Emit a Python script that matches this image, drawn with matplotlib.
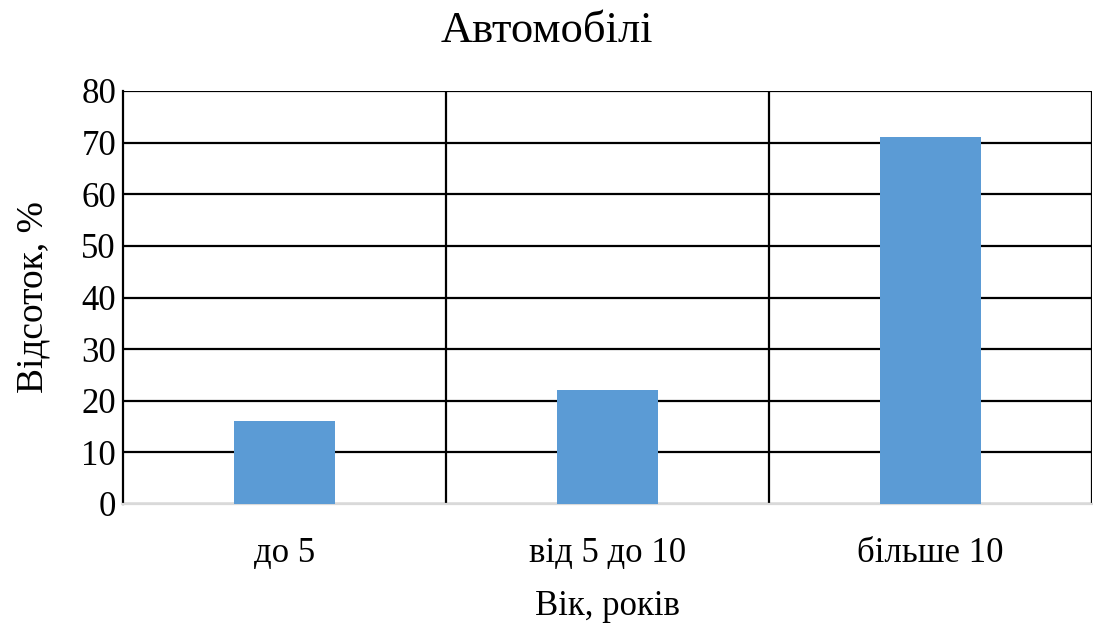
import matplotlib
matplotlib.use("Agg")
import matplotlib.pyplot as plt
import numpy as np

categories = ["до 5", "від 5 до 10", "більше 10"]
values = [16, 22, 71]
yticks = [0, 10, 20, 30, 40, 50, 60, 70, 80]

plt.rcParams['font.family'] = ['Liberation Serif', 'DejaVu Serif']

fig = plt.figure(figsize=(10.93, 6.23), dpi=100)
W, H = 1093, 623
left, right, top, bottom = 123, 1092, 91, 504
ax = fig.add_axes([left / W, 1 - bottom / H, (right - left) / W, (bottom - top) / H])

x = np.arange(len(categories))
ax.bar(x, values, width=0.31, color='#5b9bd5', zorder=3)

ax.set_xlim(-0.5, len(categories) - 0.5)
ax.set_ylim(0, 80)
ax.set_yticks(yticks)
ax.set_yticklabels([str(t) for t in yticks], fontsize=25)
ax.set_xticks(x)
ax.set_xticklabels(categories, fontsize=25)
ax.tick_params(axis='both', length=0)
ax.tick_params(axis='y', pad=5)
ax.tick_params(axis='x', pad=24)

# horizontal gridlines
ax.yaxis.grid(True, color='black', linewidth=1.6, zorder=1)
# vertical separators at category boundaries
for b in np.arange(0.5, len(categories) - 0.5 + 0.01, 1.0):
    ax.axvline(b, color='black', linewidth=1.6, zorder=1)

for s in ['top', 'right']:
    ax.spines[s].set_visible(False)
ax.spines['left'].set_color('black')
ax.spines['left'].set_linewidth(1.6)
ax.spines['bottom'].set_color('#d9d9d9')
ax.spines['bottom'].set_linewidth(1.6)
ax.set_axisbelow(True)

ax.set_xlabel("Вік, років", fontsize=25, labelpad=14)
ax.set_ylabel("Відсоток, %", fontsize=27, labelpad=22)
fig.text(0.5, 1 - 31 / H, "Автомобілі", fontsize=32, ha='center', va='center')

fig.savefig("out.png", dpi=100)
